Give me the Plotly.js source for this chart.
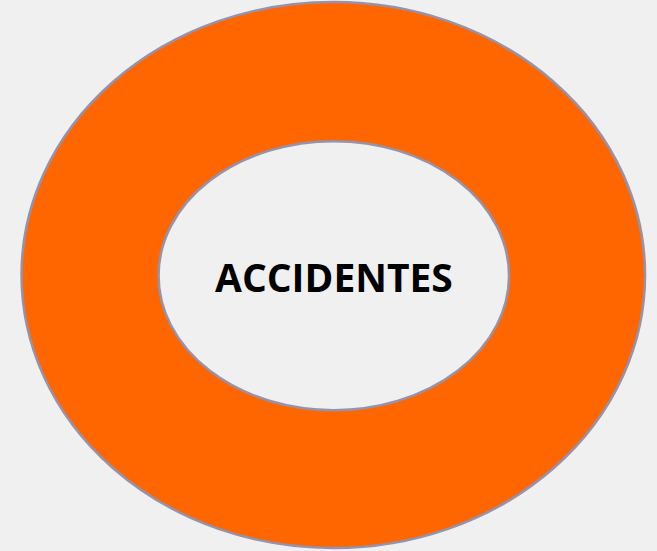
<!DOCTYPE html>
<html>
<head>
<meta charset="utf-8">
<script src="https://cdn.plot.ly/plotly-3.0.1.min.js"></script>
<style>
  html, body { margin: 0; padding: 0; background: #f0f0f0; }
  #chart { width: 657px; height: 551px; }
  .pielayer path { vector-effect: non-scaling-stroke; }
  /* stretch the circular pies into the ellipses of the reference */
  .pielayer .trace:nth-of-type(1) { transform-origin: 328.5px 275.5px; transform: translate(4.8px, -0.5px) scale(1.1316, 0.9909); }
  .pielayer .trace:nth-of-type(2) { transform-origin: 328.5px 275.5px; transform: translate(5.3px, 0.2px) scale(0.6361, 0.4882); }
</style>
</head>
<body>
<div id="chart"></div>
<script>
const categories = ['ACCIDENTES'];
const ringValues = [1];
const holeValues = [1];
const centerLabel = 'ACCIDENTES';

const outline = { color: '#9692ab', width: 2.5 };

const data = [
  {
    type: 'pie',
    labels: categories,
    values: ringValues,
    marker: { colors: ['#ff6600'], line: outline },
    textinfo: 'none',
    hoverinfo: 'skip',
    sort: false,
    showlegend: false,
    domain: { x: [0, 1], y: [0, 1] }
  },
  {
    type: 'pie',
    labels: categories,
    values: holeValues,
    marker: { colors: ['#f0f0f0'], line: outline },
    textinfo: 'none',
    hoverinfo: 'skip',
    sort: false,
    showlegend: false,
    domain: { x: [0, 1], y: [0, 1] }
  }
];

const layout = {
  width: 657,
  height: 551,
  margin: { l: 0, r: 0, t: 0, b: 0 },
  paper_bgcolor: '#f0f0f0',
  plot_bgcolor: '#f0f0f0',
  showlegend: false,
  annotations: [{
    text: centerLabel,
    x: 334 / 657,
    y: 1 - 276 / 551,
    xref: 'paper',
    yref: 'paper',
    xanchor: 'center',
    yanchor: 'middle',
    showarrow: false,
    font: { family: '"Open Sans", Lato, sans-serif', size: 39, color: '#000000', weight: 'bold' }
  }]
};

Plotly.newPlot('chart', data, layout, { displayModeBar: false, staticPlot: true });
</script>
</body>
</html>
